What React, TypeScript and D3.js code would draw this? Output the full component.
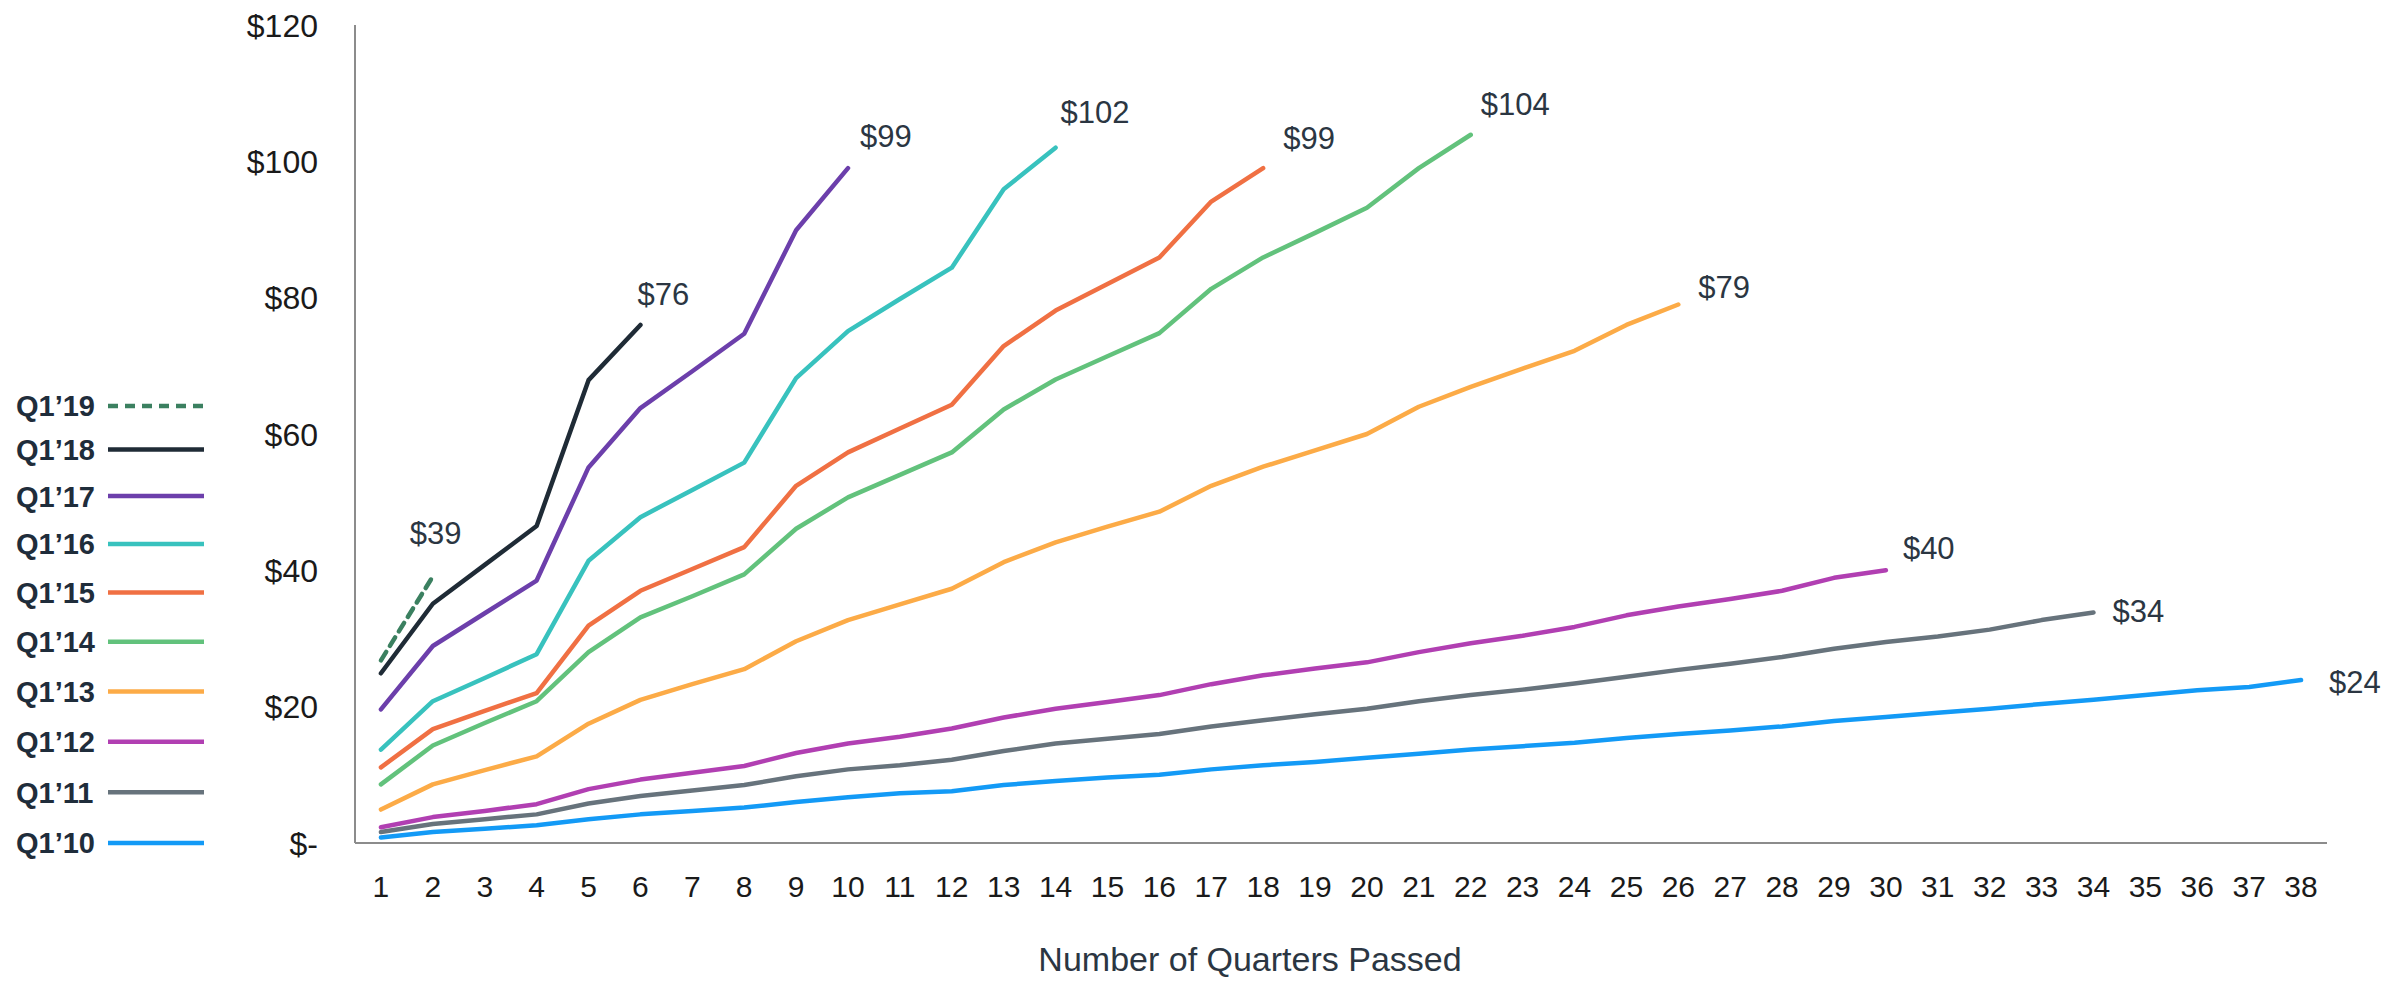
import React from 'react'
import * as d3 from 'd3'

// quarters passed since the cohort started (x axis)
const quarters = [
	1, 2, 3, 4, 5, 6, 7, 8, 9, 10, 11, 12, 13, 14, 15, 16, 17, 18, 19, 20, 21, 22, 23, 24, 25, 26,
	27, 28, 29, 30, 31, 32, 33, 34, 35, 36, 37, 38,
]
const yTicks = [0, 20, 40, 60, 80, 100, 120]

// cumulative value per cohort
const q110 = [
	0.8, 1.6, 2.1, 2.6, 3.5, 4.2, 4.7, 5.2, 6.0, 6.7, 7.3, 7.6, 8.5, 9.1, 9.6, 10.0, 10.8, 11.4, 11.9,
	12.5, 13.1, 13.7, 14.2, 14.7, 15.4, 16.0, 16.5, 17.1, 17.9, 18.5, 19.1, 19.7, 20.4, 21.0, 21.7,
	22.4, 22.9, 23.9,
]
const q111 = [
	1.6, 2.8, 3.5, 4.2, 5.8, 6.9, 7.7, 8.5, 9.8, 10.8, 11.4, 12.2, 13.5, 14.6, 15.3, 16.0, 17.1, 18.0,
	18.9, 19.7, 20.8, 21.7, 22.5, 23.4, 24.4, 25.4, 26.3, 27.3, 28.5, 29.5, 30.3, 31.3, 32.7, 33.8,
]
const q112 = [
	2.3, 3.8, 4.7, 5.7, 7.9, 9.3, 10.3, 11.3, 13.2, 14.6, 15.6, 16.8, 18.4, 19.7, 20.7, 21.7, 23.3,
	24.6, 25.6, 26.5, 28.0, 29.3, 30.4, 31.7, 33.4, 34.7, 35.8, 37.0, 38.9, 40.0,
]
const q113 = [
	4.9, 8.6, 10.7, 12.7, 17.5, 21.0, 23.3, 25.5, 29.6, 32.7, 35.0, 37.3, 41.2, 44.1, 46.4, 48.6,
	52.4, 55.2, 57.6, 60.0, 64.0, 66.9, 69.6, 72.2, 76.0, 79.0,
]
const q114 = [
	8.6, 14.3, 17.6, 20.8, 28.0, 33.1, 36.2, 39.4, 46.1, 50.7, 54.0, 57.3, 63.6, 68.0, 71.4, 74.8,
	81.3, 85.9, 89.5, 93.2, 99.0, 103.9,
]
const q115 = [
	11.1, 16.7, 19.4, 22.0, 31.9, 37.0, 40.2, 43.4, 52.4, 57.3, 60.8, 64.3, 72.9, 78.1, 82.0, 85.9,
	94.1, 99.0,
]
const q116 = [13.7, 20.8, 24.2, 27.7, 41.4, 47.8, 51.8, 55.8, 68.2, 75.1, 79.8, 84.4, 95.9, 102.0]
const q117 = [19.6, 28.9, 33.7, 38.5, 55.1, 63.8, 69.2, 74.7, 89.9, 99.0]
const q118 = [24.9, 35.1, 40.8, 46.5, 67.9, 76.0]
const q119 = [26.8, 39.1]

// legend order, top to bottom
const names = ["Q1’19", "Q1’18", "Q1’17", "Q1’16", "Q1’15", "Q1’14", "Q1’13", "Q1’12", "Q1’11", "Q1’10"]
const seriesValues = [q119, q118, q117, q116, q115, q114, q113, q112, q111, q110]
const endLabels = ['$39', '$76', '$99', '$102', '$99', '$104', '$79', '$40', '$34', '$24']

const colors = [
	'#3b8060',
	'#1f2b36',
	'#6c3fab',
	'#38c2be',
	'#f07043',
	'#62c27c',
	'#fcab47',
	'#b13fb2',
	'#67737c',
	'#139af6',
]
// where each end label sits relative to the last point
const labelOffsets: [number, number][] = [
	[-23, -44],
	[-3, -31],
	[12, -32],
	[5, -36],
	[20, -30],
	[10, -31],
	[20, -18],
	[17, -22],
	[19, -2],
	[28, 2],
]

const W = 2408,
	H = 983
const font = '"Liberation Sans", Arial, Helvetica, sans-serif'

const App = () => {
	const x = d3.scaleLinear().domain([0.5, 38.5]).range([355, 2327])
	const y = d3.scaleLinear().domain([0, 120]).range([843, 25])
	// legend rows get a little further apart towards the bottom
	const legendY = d3.scalePow().exponent(1.05).domain([0, names.length - 1]).range([406, 843])

	const line = d3
		.line<number>()
		.x((d, i) => x(quarters[i]))
		.y((d) => y(d))

	// draw oldest cohort first so the newer ones sit on top
	const order = d3.range(seriesValues.length).reverse()

	return (
		<svg
			width={W}
			height={H}
			style={{ position: 'absolute', left: 0, top: 0, display: 'block', background: '#fff' }}
			fontFamily={font}
		>
			{/* axes */}
			<line x1={x.range()[0]} x2={x.range()[0]} y1={y(120)} y2={y(0)} stroke="#8c8c8c" strokeWidth={2} />
			<line x1={x.range()[0]} x2={x.range()[1]} y1={y(0)} y2={y(0)} stroke="#8c8c8c" strokeWidth={2} />

			{yTicks.map((t) => (
				<text key={t} x={318} y={y(t)} dy="0.36em" textAnchor="end" fontSize={32} fill="#1a1a1a">
					{t === 0 ? '$-' : `$${t}`}
				</text>
			))}

			{quarters.map((q) => (
				<text key={q} x={x(q)} y={886} dy="0.36em" textAnchor="middle" fontSize={30} fill="#1a1a1a">
					{q}
				</text>
			))}

			<text x={1250} y={959} dy="0.36em" textAnchor="middle" fontSize={34} fill="#2b3642">
				Number of Quarters Passed
			</text>

			{order.map((i) => (
				<path
					key={names[i]}
					d={line(seriesValues[i]) || ''}
					fill="none"
					stroke={colors[i]}
					strokeWidth={4.5}
					strokeLinejoin="round"
					strokeLinecap="round"
					strokeDasharray={i === 0 ? '10,7' : undefined}
				/>
			))}

			{seriesValues.map((vals, i) => {
				const last = vals.length - 1
				return (
					<text
						key={'lab' + i}
						x={x(quarters[last]) + labelOffsets[i][0]}
						y={y(vals[last]) + labelOffsets[i][1]}
						dy="0.36em"
						fontSize={31}
						fill="#2b3642"
					>
						{endLabels[i]}
					</text>
				)
			})}

			{/* legend */}
			{names.map((n, i) => (
				<g key={'leg' + n}>
					<text x={16} y={legendY(i)} dy="0.36em" fontSize={29} fontWeight="bold" fill="#1f2d3b">
						{n}
					</text>
					<line
						x1={108}
						x2={204}
						y1={legendY(i)}
						y2={legendY(i)}
						stroke={colors[i]}
						strokeWidth={4.5}
						strokeDasharray={i === 0 ? '10,7' : undefined}
					/>
				</g>
			))}
		</svg>
	)
}

export default App
